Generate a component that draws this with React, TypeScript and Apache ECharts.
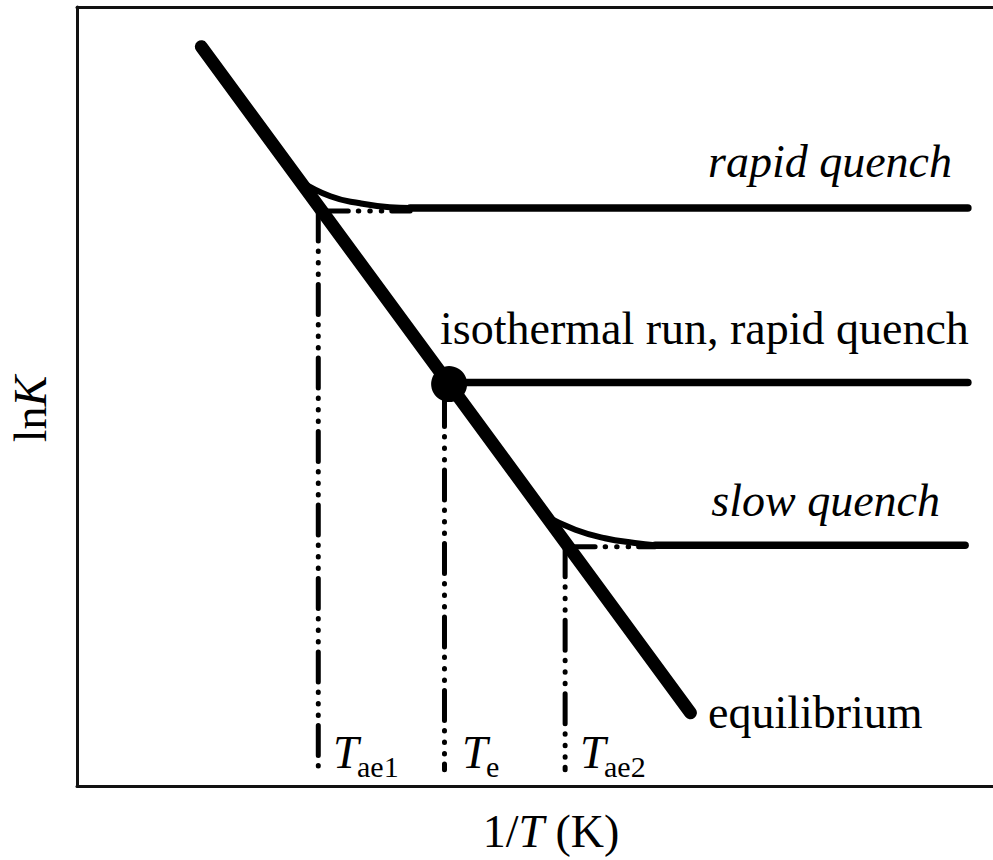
import React, { useEffect, useRef } from "react";
import * as echarts from "echarts";

// 1/T (arbitrary units) vs lnK (arbitrary units)
const equilibrium: number[][] = [[1.34, 9.49], [6.61, 0.94]];
const rapidCurve: number[][] = [[2.40, 7.77], [2.73, 7.57], [3.05, 7.48], [3.37, 7.43], [3.59, 7.42]];
const rapidPlateau: number[][] = [[3.59, 7.42], [9.60, 7.42]];
const isoPoint: number[][] = [[4.01, 5.16]];
const isoPlateau: number[][] = [[4.01, 5.18], [9.60, 5.18]];
const slowCurve: number[][] = [[5.04, 3.47], [5.37, 3.29], [5.69, 3.18], [6.01, 3.12], [6.23, 3.09]];
const slowPlateau: number[][] = [[6.23, 3.09], [9.57, 3.09]];
const tae1Horizontal: number[][] = [[2.60, 7.38], [3.59, 7.38]];
const tae1Vertical: number[][] = [[2.60, 7.38], [2.60, 0.21]];
const teVertical: number[][] = [[3.96, 5.0], [3.96, 0.21]];
const tae2Horizontal: number[][] = [[5.26, 3.07], [6.23, 3.07]];
const tae2Vertical: number[][] = [[5.26, 3.07], [5.26, 0.21]];

const FONT = "Liberation Serif";
const INK = "#000";

export default function App() {
  const ref = useRef<HTMLDivElement>(null);
  useEffect(() => {
    if (!ref.current) return;
    const chart = echarts.init(ref.current, undefined, { renderer: "svg" });
    const dashPattern = [30, 10, 0.5, 11, 0.5, 11, 0.5, 10];
    const dashed = (data: number[][]) => ({
      type: "line",
      data,
      symbol: "none",
      silent: true,
      lineStyle: { color: INK, width: 5, type: dashPattern, cap: "round" },
      z: 1,
    });
    const solid = (data: number[][], width: number, smooth = false, z = 2) => ({
      type: "line",
      data,
      symbol: "none",
      silent: true,
      smooth,
      lineStyle: { color: INK, width, cap: "round", join: "round" },
      z,
    });
    const text = (t: string, x: number, y: number, size: number, align: string, italic = false) => ({
      type: "text",
      x,
      y,
      silent: true,
      style: {
        text: "{a|" + t + "}",
        rich: {
          a: {
            fontFamily: FONT,
            fontSize: size,
            fontStyle: italic ? "italic" : "normal",
            color: INK,
          },
        },
        fontFamily: FONT,
        fontSize: size,
        fontStyle: italic ? "italic" : "normal",
        fill: INK,
        textAlign: align,
        textVerticalAlign: "middle",
      },
    });
    const richLabel = {
      n: { fontFamily: FONT, fontSize: 46, color: INK },
      i: { fontFamily: FONT, fontSize: 46, fontStyle: "italic", color: INK },
    };
    const frameLine = { show: true, lineStyle: { color: "#111", width: 3 } };
    const hidden = {
      axisTick: { show: false },
      axisLabel: { show: false },
      splitLine: { show: false },
    };
    chart.setOption({
      animation: false,
      backgroundColor: "#fff",
      grid: {
        left: 77,
        top: 7,
        width: 928,
        bottom: 74,
        show: false,
        containLabel: false,
        outerBoundsMode: "none",
      },
      xAxis: [
        {
          type: "value",
          min: 0,
          max: 10,
          position: "bottom",
          axisLine: frameLine,
          ...hidden,
          name: "{n|1/}{i|T}{n| (K)}",
          nameLocation: "middle",
          nameGap: 22,
          nameTextStyle: { padding: [0, 0, 0, 20], rich: richLabel },
        },
        {
          type: "value",
          min: 0,
          max: 10,
          position: "top",
          axisLine: frameLine,
          ...hidden,
        },
      ],
      yAxis: {
        type: "value",
        min: 0,
        max: 10,
        axisLine: frameLine,
        ...hidden,
      },
      series: [
        dashed(tae1Horizontal),
        dashed(tae1Vertical),
        dashed(teVertical),
        dashed(tae2Horizontal),
        dashed(tae2Vertical),
        solid(rapidCurve, 6, true),
        solid(rapidPlateau, 7.5),
        solid(isoPlateau, 7.5),
        solid(slowCurve, 6, true),
        solid(slowPlateau, 7.5),
        solid(equilibrium, 13, false, 3),
        {
          type: "scatter",
          data: isoPoint,
          symbol: "circle",
          symbolSize: 36,
          itemStyle: { color: INK, opacity: 1 },
          silent: true,
          z: 4,
        },
      ],
      graphic: [
        {
          type: "text",
          x: 30,
          y: 409,
          rotation: Math.PI / 2,
          silent: true,
          style: {
            text: "{n|ln}{i|K}",
            rich: richLabel,
            fontFamily: FONT,
            fontSize: 46,
            fill: INK,
            textAlign: "center",
            textVerticalAlign: "middle",
          },
        },
        text("rapid quench", 952, 161, 46, "right", true),
        text("isothermal run, rapid quench", 440, 328, 46, "left"),
        text("slow quench", 940, 500, 46, "right", true),
        text("equilibrium", 708, 712, 46, "left"),
        text("T", 333, 752, 46, "left", true),
        text("ae1", 357, 766, 30, "left"),
        text("T", 462, 752, 46, "left", true),
        text("e", 486, 766, 30, "left"),
        text("T", 580, 752, 46, "left", true),
        text("ae2", 604, 766, 30, "left"),
      ],
    });
    return () => chart.dispose();
  }, []);
  return (
    <div
      ref={ref}
      style={{ position: "fixed", left: 0, top: 0, width: 993, height: 860, background: "#fff" }}
    />
  );
}
